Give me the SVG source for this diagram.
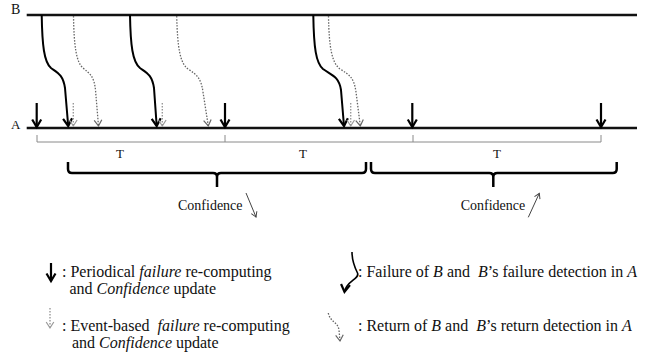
<svg xmlns="http://www.w3.org/2000/svg" width="653" height="360" viewBox="0 0 653 360">
<style>
text{font-family:"Liberation Serif","Times New Roman",serif;fill:#111}
.axis{stroke:#111;stroke-width:2.5;fill:none}
.per{stroke:#000;stroke-width:2.2;fill:none;marker-end:url(#hs)}
.fail{stroke:#000;stroke-width:2;fill:none;marker-end:url(#hs)}
.ret{stroke:#666;stroke-width:1.3;stroke-dasharray:1.5 1.5;fill:none;marker-end:url(#ho)}
.evt{stroke:#999;stroke-width:1.4;stroke-dasharray:1.5 1.5;fill:none;marker-end:url(#ho2)}
.brace{stroke:#000;stroke-width:2.5;fill:none}
.tick{stroke:#8a8a8a;stroke-width:1;fill:none}
.thin{stroke:#444;stroke-width:1;fill:none;marker-end:url(#ht)}
.leg{font-size:16px}
</style>
<defs>
<marker id="hs" markerUnits="userSpaceOnUse" markerWidth="12" markerHeight="12" viewBox="-9 -6 11 12" refX="0" refY="0" orient="auto">
<path d="M-7.5,-4.5 L0,0 L-7.5,4.5" fill="none" stroke="#000" stroke-width="2.2"/>
</marker>
<marker id="ho" markerUnits="userSpaceOnUse" markerWidth="10" markerHeight="10" viewBox="-8 -5 10 10" refX="0" refY="0" orient="auto">
<path d="M-6,-3.8 L0,0 L-6,3.8" fill="none" stroke="#666" stroke-width="1.2"/>
</marker>
<marker id="ho2" markerUnits="userSpaceOnUse" markerWidth="10" markerHeight="10" viewBox="-8 -5 10 10" refX="0" refY="0" orient="auto">
<path d="M-6,-3.8 L0,0 L-6,3.8" fill="none" stroke="#999" stroke-width="1.2"/>
</marker>
<marker id="ht" markerUnits="userSpaceOnUse" markerWidth="8" markerHeight="8" viewBox="-6 -4 8 8" refX="0" refY="0" orient="auto">
<path d="M-5,-3 L0,0 L-5,3" fill="none" stroke="#444" stroke-width="1"/>
</marker>
</defs>

<g id="processB">
<path class="axis" d="M26.7,15 H637"/>
<text x="11" y="14" font-size="14">B</text>
</g>
<g id="processA">
<path class="axis" d="M26.7,128 H637"/>
<text x="11" y="129" font-size="13">A</text>
</g>

<g id="connectors">
<path class="per" d="M36.7,103 V127"/>
<path class="per" d="M225,103 V127"/>
<path class="per" d="M412.3,103 V127"/>
<path class="per" d="M601,103 V127"/>
<path class="fail" d="M41.7,15 C42.2,45 44,62 51,68 C58,73 63,75 65,88 L68.2,126"/>
<path class="fail" d="M130,15 C130.5,45 132.5,62 140,68 C147,73 152,75 154,88 L156.7,126"/>
<path class="fail" d="M313.3,15 C313.8,48 316,63 323,69 C331,75 339,76 341,90 L344,126"/>
<path class="ret" d="M73.5,16 C74,45 76,62 83,68 C90,74 94,76 95.5,90 L98.5,126"/>
<path class="ret" d="M176.7,16 C177.5,48 180,63 188,69 C197,75 201,78 203,92 L208.3,126"/>
<path class="ret" d="M328.5,16 C329,48 332,63 340,69 C350,75 354,78 356,92 L360.3,126"/>
<path class="evt" d="M73.3,103 V126"/>
<path class="evt" d="M162.3,103 V126"/>
<path class="evt" d="M350.7,103 V126"/>
</g>

<g id="periods">
<path class="tick" d="M37,135 V142 H601 V135 M225,142 V135 M413,142 V135"/>
<text x="120" y="158" font-size="13" text-anchor="middle">T</text>
<text x="303" y="158" font-size="13" text-anchor="middle">T</text>
<text x="497" y="158" font-size="13" text-anchor="middle">T</text>
</g>

<g id="braceDown">
<path class="brace" d="M68,162 V169 Q68,173 72,173 H213 Q217,173 217,177 V187 M217,177 Q217,173 221,173 H362 Q366,173 366,169 V162"/>
<text x="178" y="210" font-size="14">Confidence</text>
<path class="thin" d="M246,193 L256,217"/>
</g>
<g id="braceUp">
<path class="brace" d="M371,162 V169 Q371,173 375,173 H489.3 Q493.3,173 493.3,177 V187 M493.3,177 Q493.3,173 497.3,173 H612.7 Q616.7,173 616.7,169 V162"/>
<text x="460.7" y="210" font-size="14">Confidence</text>
<path class="thin" d="M528.3,217.3 L539.3,193.3"/>
</g>

<g id="legendPeriodic">
<path class="per" d="M51,263 V281"/>
<text class="leg" x="62" y="277">: Periodical <tspan font-style="italic">failure</tspan> re-computing</text>
<text class="leg" x="69.5" y="294">and <tspan font-style="italic">Confidence</tspan> update</text>
</g>
<g id="legendEvent">
<path class="evt" d="M50,308 V328"/>
<text class="leg" x="62" y="331" xml:space="preserve">: Event-based  <tspan font-style="italic">failure</tspan> re-computing</text>
<text class="leg" x="72" y="348">and <tspan font-style="italic">Confidence</tspan> update</text>
</g>
<g id="legendFailure">
<path class="fail" style="stroke-width:1.6" d="M352,252 C352,262 355,268 357.5,273 C360,279 346,281 344.5,292"/>
<text class="leg" x="358" y="277" xml:space="preserve">: Failure of <tspan font-style="italic">B</tspan> and  <tspan font-style="italic">B</tspan>’s failure detection in <tspan font-style="italic">A</tspan></text>
</g>
<g id="legendReturn">
<path class="ret" d="M328.3,313 C330,322 338,322 339,330 L340,341"/>
<text class="leg" x="358" y="331" xml:space="preserve">: Return of <tspan font-style="italic">B</tspan> and  <tspan font-style="italic">B</tspan>’s return detection in <tspan font-style="italic">A</tspan></text>
</g>
</svg>
